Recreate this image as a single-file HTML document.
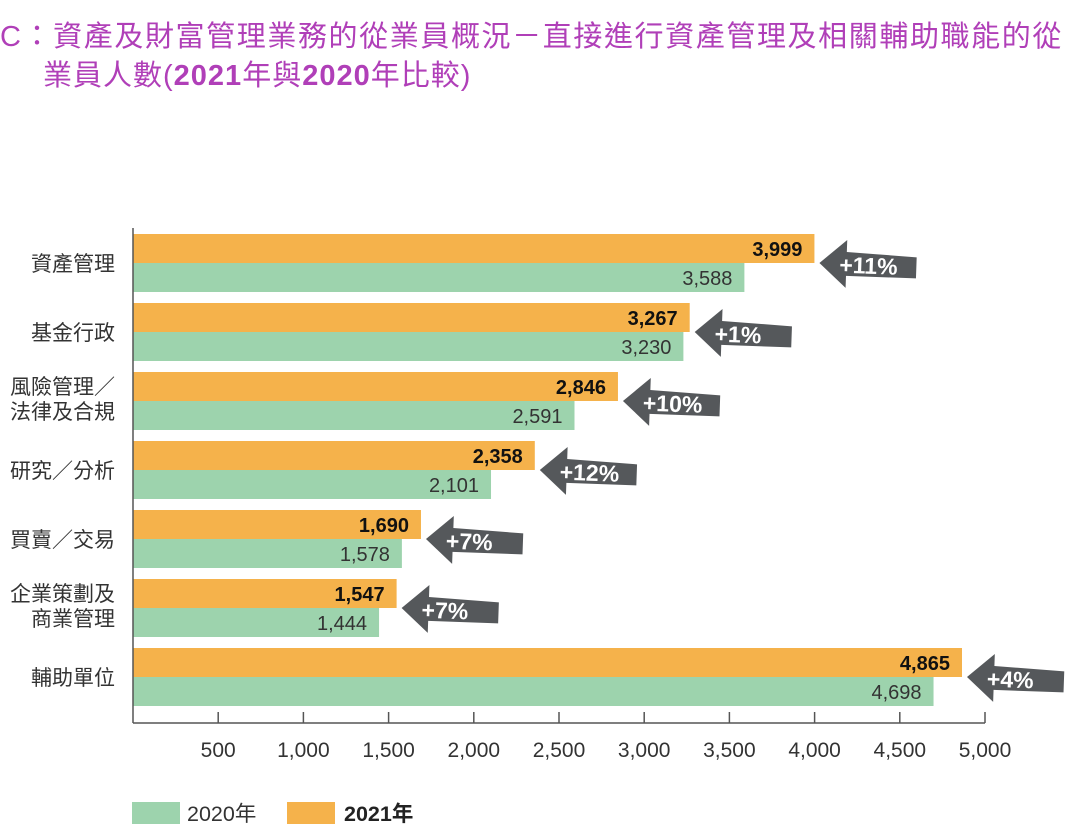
<!DOCTYPE html>
<html><head><meta charset="utf-8"><style>
body{margin:0;width:1080px;height:829px;background:#fff;overflow:hidden;font-family:"Liberation Sans","Noto Sans CJK TC",sans-serif}
</style></head><body>
<svg width="1080" height="829" xmlns="http://www.w3.org/2000/svg" font-family="'Liberation Sans','Noto Sans CJK TC',sans-serif">
<g fill="#b03fb8" font-size="29">
<text x="0" y="46" letter-spacing="1.6">C：資產及財富管理業務的從業員概況－直接進行資產管理及相關輔助職能的從</text>
<text x="43" y="85" letter-spacing="1">業員人數(<tspan font-weight="bold">2021</tspan>年與<tspan font-weight="bold">2020</tspan>年比較)</text>
</g>
<g id="bars"></g>
<g stroke="#555" stroke-width="1.5" fill="none">
<line x1="133" y1="228" x2="133" y2="723"/>
<line x1="133" y1="723" x2="985" y2="723"/>
</g>
<g id="ticks"></g>
<rect x="132" y="802" width="48" height="22" fill="#9dd3ad"/>
<text x="187" y="821" font-size="21.5" fill="#333">2020年</text>
<rect x="287" y="802" width="48" height="22" fill="#f5b24b"/>
<text x="344" y="821" font-size="21.5" font-weight="bold" fill="#222">2021年</text>
</svg>
<script>
var d=[["資產管理",null,3999,3588,"+11%"],["基金行政",null,3267,3230,"+1%"],["風險管理／","法律及合規",2846,2591,"+10%"],["研究／分析",null,2358,2101,"+12%"],["買賣／交易",null,1690,1578,"+7%"],["企業策劃及","商業管理",1547,1444,"+7%"],["輔助單位",null,4865,4698,"+4%"]];
var s="",o=133,k=0.1704;
d.forEach(function(r,i){var y=234+i*69;var wo=r[2]*k,wg=r[3]*k;
s+='<rect x="'+o+'" y="'+y+'" width="'+wo+'" height="29" fill="#f5b24b"/>';
s+='<rect x="'+o+'" y="'+(y+29)+'" width="'+wg+'" height="29" fill="#9dd3ad"/>';
s+='<text x="'+(o+wo-12)+'" y="'+(y+22)+'" text-anchor="end" font-size="20" font-weight="bold" fill="#111">'+r[2].toLocaleString("en-US")+'</text>';
s+='<text x="'+(o+wg-12)+'" y="'+(y+51)+'" text-anchor="end" font-size="20" fill="#333">'+r[3].toLocaleString("en-US")+'</text>';
if(r[1]){s+='<text x="115" y="'+(y+22)+'" text-anchor="end" font-size="21" fill="#333">'+r[0]+'</text><text x="115" y="'+(y+47)+'" text-anchor="end" font-size="21" fill="#333">'+r[1]+'</text>';}
else s+='<text x="115" y="'+(y+37)+'" text-anchor="end" font-size="21" fill="#333">'+r[0]+'</text>';
var tx=o+wo+5,ty=y+29;
s+='<g transform="translate('+tx+','+ty+') rotate(2)"><path d="M0,0 L27,-24 L27,-12 L97,-9 L97,12 L27,12 L27,24 Z" fill="#55585b"/><text x="20" y="9" font-size="23" font-weight="bold" fill="#fff">'+r[4]+'</text></g>';
});
document.getElementById("bars").innerHTML=s;
var t="";for(var v=500;v<=5000;v+=500){var x=o+v*k;t+='<line x1="'+x+'" y1="712" x2="'+x+'" y2="723" stroke="#555" stroke-width="1.5"/><text x="'+x+'" y="757" text-anchor="middle" font-size="21" fill="#333">'+v.toLocaleString("en-US")+'</text>';}
document.getElementById("ticks").innerHTML=t;
</script>
</body></html>
